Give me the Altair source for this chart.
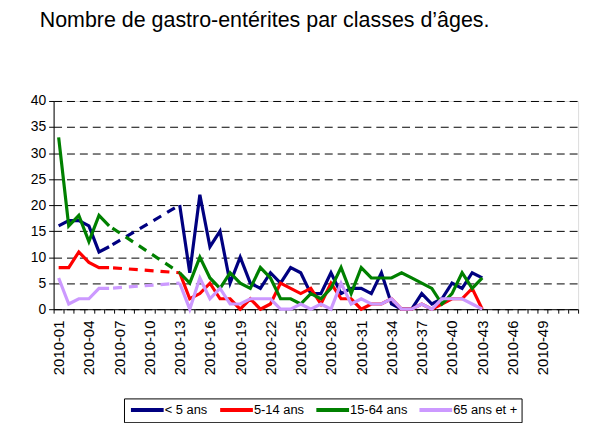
import altair as alt
import pandas as pd

weeks = [f"2010-{i:02d}" for i in range(1, 53)]
series = ["< 5 ans", "5-14 ans", "15-64 ans", "65 ans et +"]
colors = ["#000080", "#FF0000", "#008000", "#CC99FF"]

# weekly counts for weeks 2010-01 .. 2010-43 (None = no data)
under5 = [16, 17, 17, 16, 11, 12, None, None, None, None, None, None,
          20, 7, 22, 12, 15, 5, 10, 5, 4, 7, 5, 8, 7, 3, 3, 7, 3, 4, 4, 3, 7, 1, 0, 0, 3, 1, 2, 5, 4, 7, 6]
age5_14 = [8, 8, 11, 9, 8, 8, None, None, None, None, None, None,
           7, 2, 3, 5, 2, 2, 0, 2, 0, 1, 5, 4, 3, 4, 1, 5, 2, 2, 0, 1, 1, 2, 0, 0, 1, 0, 1, 2, 2, 4, 0]
age15_64 = [33, 16, 18, 13, 18, 16, None, None, None, None, None, None,
            7, 5, 10, 6, 4, 7, 5, 4, 8, 6, 2, 2, 1, 3, 2, 4, 8, 3, 8, 6, 6, 6, 7, 6, 5, 4, 1, 3, 7, 4, 6]
age65 = [6, 1, 2, 2, 4, 4, None, None, None, None, None, None,
         5, 0, 6, 2, 4, 1, 1, 2, 2, 2, 0, 0, 1, 0, 1, 0, 5, 1, 2, 1, 1, 2, 0, 0, 1, 0, 2, 2, 2, 1, 0]

values = [under5, age5_14, age15_64, age65]

rows = []
gap_rows = []
for name, vals in zip(series, values):
    for i, v in enumerate(vals):
        if v is None:
            continue
        seg = "a" if i < 6 else "b"
        rows.append({"week": weeks[i], "serie": name, "n": v, "seg": name + seg})
    # dashed bridge over the missing weeks
    idx_before = max(i for i in range(6) if vals[i] is not None)
    idx_after = min(i for i in range(6, len(vals)) if vals[i] is not None)
    gap_rows.append({"week": weeks[idx_before], "serie": name, "n": vals[idx_before]})
    gap_rows.append({"week": weeks[idx_after], "serie": name, "n": vals[idx_after]})

df = pd.DataFrame(rows)
gdf = pd.DataFrame(gap_rows)

FONT = "Liberation Sans"

xenc = alt.X(
    "week:O",
    scale=alt.Scale(domain=weeks, type="band", paddingInner=0, paddingOuter=0),
    bandPosition=0.5,
    axis=alt.Axis(
        title=None,
        labelAngle=270,
        labelAlign="right",
        labelBaseline="middle",
        labelFontSize=15,
        labelFont=FONT,
        labelColor="black",
        labelPadding=7,
        labelExpr="((parseInt(substring(datum.label, 5, 7)) - 1) % 3 == 0 && parseInt(substring(datum.label, 5, 7)) <= 49) ? datum.label : ''",
        tickBand="extent",
        tickSize=4,
        tickColor="black",
        domainColor="black",
        labelOverlap=False,
        grid=False,
    ),
)
yenc = alt.Y(
    "n:Q",
    scale=alt.Scale(domain=[0, 40], nice=False),
    axis=alt.Axis(
        title=None,
        values=[0, 5, 10, 15, 20, 25, 30, 35, 40],
        labelFontSize=14,
        labelFont=FONT,
        labelColor="black",
        labelPadding=3,
        tickSize=5,
        tickColor="black",
        domainColor="black",
        grid=True,
        gridColor="black",
        gridDash=[8, 5],
        gridWidth=1,
    ),
)
cenc = alt.Color(
    "serie:N",
    scale=alt.Scale(domain=series, range=colors),
    sort=series,
    title=None,
    legend=alt.Legend(
        orient="none",
        legendX=71,
        legendY=300,
        direction="horizontal",
        symbolType="M-3,0H3",
        symbolStrokeWidth=4,
        symbolSize=121,
        symbolOffset=12,
        labelFontSize=13,
        labelFont=FONT,
        labelColor="black",
        labelOffset=10,
        columnPadding=4,
        strokeColor="black",
        padding=4,
    ),
)

solid = alt.Chart(df).mark_line(strokeWidth=3.2).encode(
    x=xenc, y=yenc, color=cenc, detail="seg:N"
)
dashed = alt.Chart(gdf).mark_line(strokeWidth=3.2, strokeDash=[9, 7], strokeDashOffset=-4).encode(
    x=xenc, y=yenc, color=cenc,
)

chart = alt.layer(dashed, solid).properties(
    width=529,
    height=210,
    autosize=alt.AutoSizeParams(type="none"),
    padding={"left": 46, "top": 92, "right": 10, "bottom": 113},
    title=alt.TitleParams(
        "Nombre de gastro-entérites par classes d’âges.",
        anchor="start",
        frame="group",
        font=FONT,
        fontSize=21.6,
        fontWeight="normal",
        color="black",
        dx=-14,
        offset=46,
        baseline="alphabetic",
    ),
).configure_view(stroke=None).configure(background="white")

chart.save("out.html", embed_options={"renderer": "svg", "actions": False})
